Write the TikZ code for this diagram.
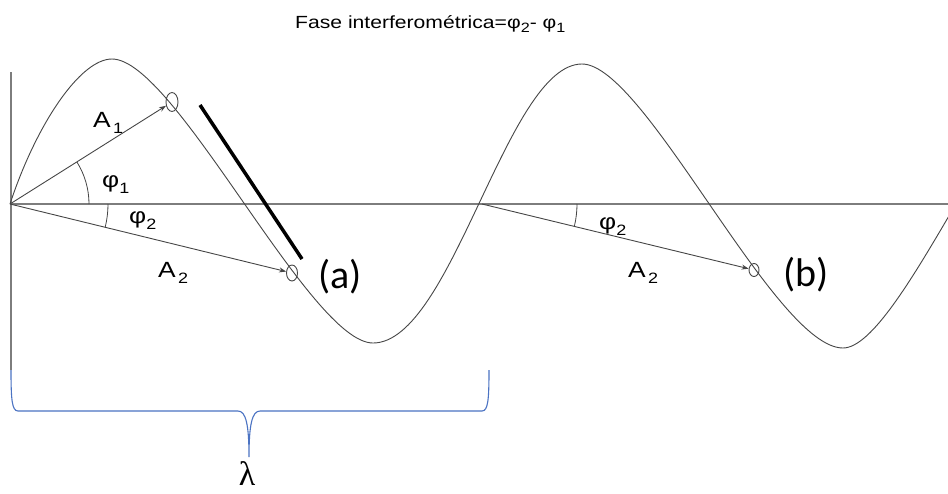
\documentclass[tikz,border=0pt]{standalone}
\usepackage{fontspec}
\setmainfont{Liberation Sans}
\newfontfamily\calib{Carlito}
\newfontfamily\serifg{Liberation Serif}
\usetikzlibrary{shapes.geometric,arrows.meta}
\newcommand\hstretch[1]{\scalebox{1.2}[1]{#1}}
\newcommand\subf[1]{\raisebox{-6pt}{\fontsize{15}{15}\selectfont #1}}
\definecolor{wavec}{RGB}{70,70,70}
\definecolor{axisc}{RGB}{125,125,125}
\definecolor{bracec}{RGB}{75,115,195}
\tikzset{
  wave/.style={draw=wavec, line width=0.9pt},
  axisline/.style={draw=axisc, line width=1.4pt},
  vec/.style={draw=wavec, line width=0.9pt, -{Stealth[length=7pt,width=5pt]}},
  anglearc/.style={draw=wavec, line width=0.8pt},
  pt/.style={ellipse, draw=wavec, line width=0.9pt, inner sep=0pt},
  lab/.style={inner sep=0pt, anchor=base west, font=\fontsize{22}{22}\selectfont},
  biglab/.style={inner sep=0pt, anchor=base west, font=\calib\fontsize{40}{40}\selectfont},
}
\begin{document}
\begin{tikzpicture}[x=1pt,y=-1pt]
\useasboundingbox (0,0) rectangle (948,493);
\fill[white] (0,0) rectangle (948,493);

% axes
\draw[axisline] (10,204) -- (948,204);
\draw[axisline] (11,72) -- (11,370);

% wave
\begin{scope}
\clip (0,0) rectangle (948,493);
\draw[wave] (10,204) .. controls (36,125) and (80,59) .. (112,59)
  .. controls (175,59) and (310,343) .. (373,343)
  .. controls (452,343) and (507,64) .. (582,64)
  .. controls (645,64) and (775,348) .. (843,348)
  .. controls (900,348) and (1010,64) .. (1065,64);
\end{scope}

% named points
\coordinate (O) at (10,204);
\coordinate (O2) at (482,204);
\node[pt, minimum width=12pt, minimum height=19pt] (p1) at (172,102) {};
\node[pt, minimum width=11pt, minimum height=16pt] (pa) at (292,273) {};
\node[pt, minimum width=10pt, minimum height=13pt] (pb) at (754,270) {};

% vectors
\draw[vec] (O) -- (p1);
\draw[vec] (O) -- (pa);
\draw[vec] (O2) -- (pb);

% angle arcs
\draw[anglearc] (O) ++(0:79) arc[start angle=0, end angle=-32, radius=79];
\draw[anglearc] (O) ++(0:98) arc[start angle=0, end angle=13.6, radius=98];
\draw[anglearc] (O2) ++(0:95) arc[start angle=0, end angle=13.7, radius=95];

% thick bar
\coordinate (t1) at (200,105);
\coordinate (t2) at (302,259);
\draw[line width=3.5pt, black] (t1) -- (t2);

% labels
\node[inner sep=0pt, anchor=base west, font=\fontsize{17.6}{17.6}\selectfont] (title) at (295,28)
  {\hstretch{Fase interferométrica=φ\raisebox{-4pt}{\fontsize{13.5}{13.5}\selectfont 2}- φ\raisebox{-4pt}{\fontsize{13.5}{13.5}\selectfont 1}}};
\node[lab] (A1) at (93,127) {\hstretch{A\hspace{2pt}\subf{1}}};
\node[lab] (phi1) at (102,187) {\hstretch{φ\subf{1}}};
\node[lab] (phi2) at (129,223) {\hstretch{φ\subf{2}}};
\node[lab] (A2) at (158,277) {\hstretch{A\hspace{2pt}\subf{2}}};
\node[lab] (phi2b) at (599,229) {\hstretch{φ\subf{2}}};
\node[lab] (A2b) at (628,277) {\hstretch{A\hspace{2pt}\subf{2}}};
\node[biglab] (la) at (318,288) {(a)};
\node[biglab] (lb) at (783,286) {(b)};

% brace
\draw[draw=bracec, line width=1.1pt]
  (11,370) .. controls (11,400) and (12,411) .. (18,411) -- (238,411)
  .. controls (246,411) and (249,425) .. (249,457)
  .. controls (249,425) and (252,411) .. (260,411) -- (482,411)
  .. controls (488,411) and (489,400) .. (489,370);
\node[inner sep=0pt, anchor=base, text depth=0pt, font=\serifg\fontsize{34}{34}\selectfont] (lam) at (247,485) {λ};
\end{tikzpicture}
\end{document}
